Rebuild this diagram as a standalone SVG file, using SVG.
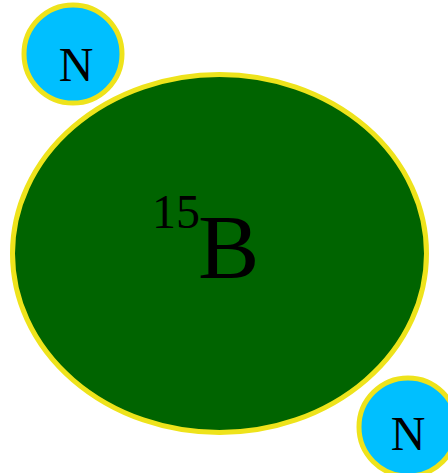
<svg xmlns="http://www.w3.org/2000/svg" width="448" height="473" viewBox="0 0 448 473">
<style>
.ring{stroke:#eee31b;stroke-width:5}
.t{font-family:"Liberation Serif","Times New Roman",serif;fill:#000}
</style>
<rect width="448" height="473" fill="#fff"/>
<g id="connectors"/>
<g id="nucleus">
<ellipse class="ring" cx="219.5" cy="253.5" rx="207" ry="179" fill="#006400"/>
<text class="t" x="152" y="228" font-size="48">15</text>
<text class="t" x="198" y="278" font-size="92">B</text>
</g>
<g id="n1">
<circle class="ring" cx="73" cy="54" r="49" fill="#00bfff"/>
<text class="t" x="76" y="80.5" font-size="48" text-anchor="middle">N</text>
</g>
<g id="n2">
<circle class="ring" cx="408" cy="427" r="49" fill="#00bfff"/>
<text class="t" x="408" y="450" font-size="48" text-anchor="middle">N</text>
</g>
</svg>
